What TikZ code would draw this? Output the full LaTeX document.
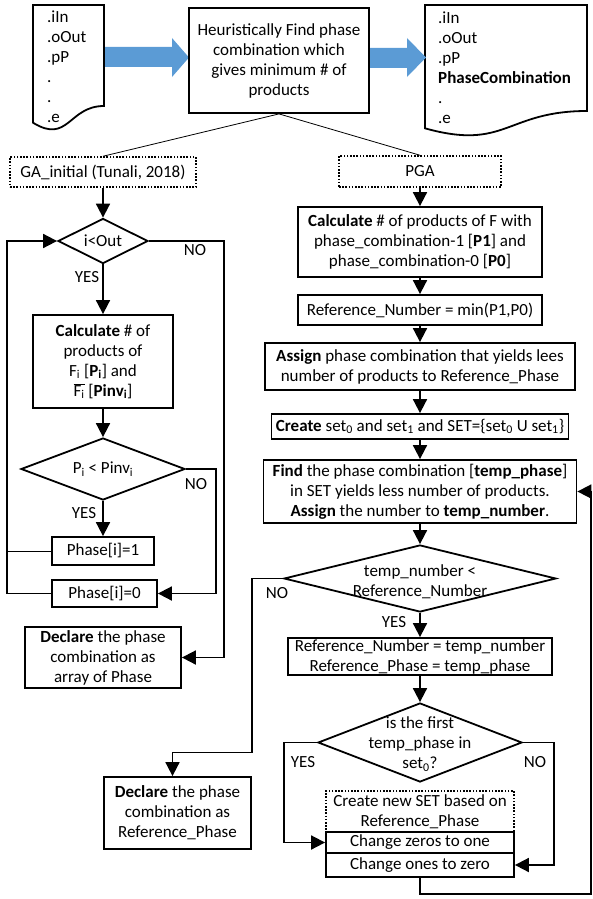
\documentclass[tikz,border=0pt]{standalone}
\usepackage{fontspec}
\setmainfont{Carlito}
\usetikzlibrary{shapes.geometric,arrows.meta}
\definecolor{docblue}{RGB}{91,155,213}
\begin{document}
\begin{tikzpicture}[x=1pt,y=-1pt,
        font=\fontsize{17}{20}\selectfont,
        box/.style={rectangle,draw,line width=1.8pt,align=center,inner sep=0pt},
        dotbox/.style={box,line width=1.5pt,dash pattern=on 1.6pt off 1.6pt},
        cond/.style={diamond,draw,line width=1.8pt,inner sep=0pt},
        flow/.style={line width=1.8pt,-{Triangle[length=14pt,width=14pt]}},
        thin/.style={line width=0.8pt},
        txt/.style={align=center,inner sep=0pt}]
      \useasboundingbox (0,0) rectangle (592,899);
      % files and blue arrows
      \draw[line width=1.8pt] (33,5) -- (104,5) -- (104,106)
        .. controls (68.5,106) and (68.5,144.5) .. (33,122.7) -- cycle;
      \draw[line width=1.8pt] (425,5) -- (587,5) -- (587,111)
        .. controls (506,111) and (506,151) .. (425,128.3) -- cycle;
      \fill[docblue] (105,47) -- (172,47) -- (172,38) -- (189,57.5)
        -- (172,77) -- (172,67) -- (105,67) -- cycle;
      \fill[docblue] (370,48) -- (407,48) -- (407,38) -- (426,57.5)
        -- (407,77) -- (407,68) -- (370,68) -- cycle;
      \node (docin) at (47,11) [anchor=north west,align=left,inner sep=0pt]
        {.iIn\\.oOut\\.pP\\.\\.\\.e};
      \node (docout) at (438,12) [anchor=north west,align=left,inner sep=0pt]
        {.iIn\\.oOut\\.pP\\\textbf{PhaseCombination}\\.\\.e};
      \node (heur) at (279,60.5) [box,minimum width=180,minimum height=105]
        {Heuristically Find phase\\combination which\\gives minimum \# of\\products};
      \node (gai) at (103,172) [dotbox,minimum width=186,minimum height=30] {GA\_initial (Tunali, 2018)};
      \node (pga) at (420,171.5) [dotbox,minimum width=162,minimum height=31] {PGA};
      % GA_initial
      \node (c1) at (103,241) [cond,minimum width=90,minimum height=45] {};
      \node (c1t) at (c1) [txt] {i<Out};
      \node (calcg) at (103,361.5) [box,minimum width=140,minimum height=93]
        {\textbf{Calculate} \# of\\products of\\F\textsubscript{i} [\textbf{P\textsubscript{i}}] and\\$\overline{\mbox{F\textsubscript{i}}}$ [\textbf{Pinv\textsubscript{i}}]};
      \node (c2) at (103,469) [cond,minimum width=164,minimum height=62] {};
      \node (c2t) at (c2) [txt] {P\textsubscript{i} < Pinv\textsubscript{i}};
      \node (ph1) at (103,551) [box,minimum width=102,minimum height=28] {Phase[i]=1};
      \node (ph0) at (104.5,593.5) [box,minimum width=105,minimum height=27] {Phase[i]=0};
      \node (decl1) at (103,657.5) [box,minimum width=156,minimum height=61]
        {\textbf{Declare} the phase\\combination as\\array of Phase};
      \node (no1) at (195,250) [txt] {NO};
      \node (yes1) at (87,277) [txt] {YES};
      \node (no2) at (196,484) [txt] {NO};
      \node (yes2) at (84,513) [txt] {YES};
      % PGA
      \node (calcp) at (420,242) [box,minimum width=244,minimum height=70]
        {\textbf{Calculate} \# of products of F with\\phase\_combination-1 [\textbf{P1}] and\\phase\_combination-0 [\textbf{P0}]};
      \node (refn) at (420,310) [box,minimum width=244,minimum height=30] {Reference\_Number = min(P1,P0)};
      \node (assign) at (420,366.5) [box,minimum width=310,minimum height=47]
        {\textbf{Assign} phase combination that yields lees\\number of products to Reference\_Phase};
      \node (create) at (420,426.5) [box,minimum width=297,minimum height=25]
        {\textbf{Create} set\textsubscript{0} and set\textsubscript{1} and SET=\{set\textsubscript{0} U set\textsubscript{1}\}};
      \node (find) at (420,491.5) [box,minimum width=313,minimum height=63]
        {\textbf{Find} the phase combination [\textbf{temp\_phase}]\\in SET yields less number of products.\\\textbf{Assign} the number to \textbf{temp\_number}.};
      \node (c3) at (420,578.5) [cond,minimum width=272,minimum height=67] {};
      \node (c3t) at (420,582) [txt] {temp\_number <\\Reference\_Number};
      \node (refset) at (420,656.5) [box,minimum width=264,minimum height=37]
        {Reference\_Number = temp\_number\\Reference\_Phase = temp\_phase};
      \node (c4) at (420,742.5) [cond,minimum width=204,minimum height=79] {};
      \node (c4t) at (420,744) [txt] {is the first\\temp\_phase in\\set\textsubscript{0}?};
      \node (newset) at (420,811.5) [dotbox,minimum width=188,minimum height=41]
        {Create new SET based on\\Reference\_Phase};
      \node (chz) at (420,842.5) [box,minimum width=188,minimum height=21] {Change zeros to one};
      \node (cho) at (420,865) [box,minimum width=188,minimum height=24] {Change ones to zero};
      \node (decl2) at (177.5,813) [box,minimum width=147,minimum height=72]
        {\textbf{Declare} the phase\\combination as\\Reference\_Phase};
      \node (no3) at (277,593) [txt] {NO};
      \node (yes3) at (394,622) [txt] {YES};
      \node (yes4) at (303,762) [txt] {YES};
      \node (no4) at (535,762) [txt] {NO};
      % connectors
      \draw[thin] (heur.south) -- (gai.north);
      \draw[thin] (heur.south) -- (pga.north);
      \draw (gai) edge[flow] (c1);
      \draw (c1) edge[flow] (calcg);
      \draw (calcg) edge[flow] (c2);
      \draw (c2) edge[flow] (ph1);
      \draw[flow] (c1.east) -- ++(75,0) |- (decl1.east);
      \draw[flow] (c2.east) -- ++(30,0) |- (ph0.east);
      \draw[thin] (ph1.west) -- ++(-44,0);
      \draw[flow] (ph0.west) -- ++(-44.5,0) |- (c1.west);
      \draw (pga) edge[flow] (calcp);
      \draw (calcp) edge[flow] (refn);
      \draw (refn) edge[flow] (assign);
      \draw (assign) edge[flow] (create);
      \draw (create) edge[flow] (find);
      \draw (find) edge[flow] (c3);
      \draw (c3) edge[flow] (refset);
      \draw (refset) edge[flow] (c4);
      \draw[flow] (c3.west) -- ++(-31,0) -- ++(0,174) -| ([xshift=-5]decl2.north);
      \draw[flow] (c4.west) -- ++(-33,0) |- (chz.west);
      \draw[flow] (c4.east) -- ++(31,0) |- (cho.east);
      \draw[flow] (cho.south) -- ++(0,16) -- ++(171,0) |- (find.east);
\end{tikzpicture}
\end{document}
